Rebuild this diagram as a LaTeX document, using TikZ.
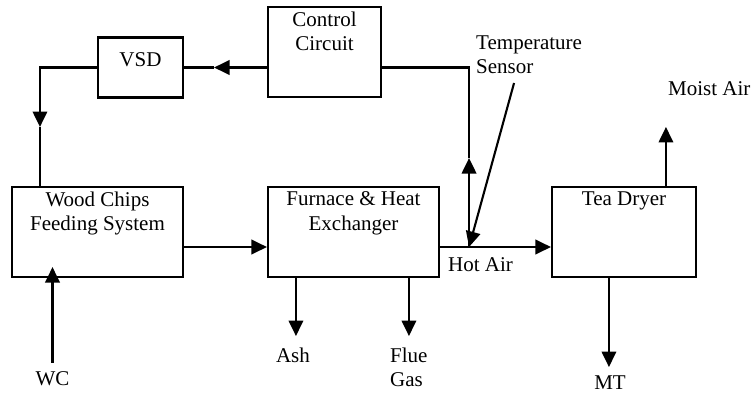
\documentclass[tikz,border=0pt]{standalone}
\usepackage{fontspec}
\setmainfont{Liberation Serif}
\usetikzlibrary{positioning}
\usetikzlibrary{calc}
\usetikzlibrary{arrows.meta}
\tikzset{
    block/.style = {rectangle,draw,line width=2.1pt,minimum width=171pt,minimum height=90pt,inner sep=0pt},
    boxtext/.style = {anchor=north,align=center,inner sep=0pt,yshift=-5.5pt},
    tag/.style = {inner sep=0pt,align=left},
    flow/.style = {line width=2.1pt,-{Triangle[length=15.5pt,width=14.5pt]}},
    wire/.style = {line width=2.1pt}}

\begin{document}
\begin{tikzpicture}[x=1pt,y=-1pt,font=\fontsize{21}{24.5}\selectfont]
    \useasboundingbox (0,0) rectangle (752,392);
    % process chain
    \path (97.5,232) node[block] (wood) {}
     ++ (256,0) node[block] (furn) {}
     ++ (270.5,0) node[block,minimum width=144pt] (dryer) {};
    % control loop
    \path (324.5,52) node[block,minimum width=113pt] (ctrl) {}
     ++ (-184,15.5) node[block,minimum width=85pt,minimum height=60pt] (vsd) {};
    \node[boxtext] (woodtxt) at (wood.north) {Wood Chips\\Feeding System};
    \node[boxtext] (furntxt) at (furn.north) {Furnace \& Heat\\Exchanger};
    \node[boxtext] (dryertxt) at (dryer.north) {Tea Dryer};
    \node[boxtext] (ctrltxt) at (ctrl.north) {Control\\Circuit};
    \node[boxtext,yshift=-10pt] (vsdtxt) at (vsd.north) {VSD};
    % free labels
    \node[tag,anchor=north] (wc) at (52.5,371.6) {WC};
    \node[tag,anchor=north] (ash) at (293,347.6) {Ash};
    \node[tag,anchor=north west] (flue) at (390,347.6) {Flue\\Gas};
    \node[tag,anchor=north] (mt) at (610,375.2) {MT};
    \node[tag,anchor=north west] (moist) at (668,81.6) {Moist Air};
    \node[tag,anchor=north west] (hot) at (448,257.6) {Hot Air};
    \node[tag,anchor=north west] (temp) at (476,35.5) {Temperature\\Sensor};
    \coordinate (c1) at ($(vsd.east)+(30,0)$);
    \coordinate (c2) at ($(wood.north west)+(29,0)$);
    \coordinate (c3) at (c2 |- vsd.west);
    \coordinate (sens) at ($(furn.east)+(29,15)$);
    \coordinate (probe) at ($(sens)+(45,-164)$);
    \coordinate (up) at ($(sens)+(0,-89)$);
    % feedback
    \draw[flow] (c1 -| ctrl.west) -- (c1);
    \draw[wire] (c1) -- (vsd.east);
    \draw[flow] (vsd.west) -- (c3) -- ($(c3)+(0,59.5)$);
    \draw[wire] ($(c3)+(0,59.5)$) -- (c2);
    \draw[flow] (sens) -- (up);
    \draw[wire] (up) -- (up |- c1) -- (c1 -| ctrl.east);
    \draw[flow] (probe) -- (sens);
    % main flow
    \draw[flow] ($(wood.east)+(0,15)$) -- ($(furn.west)+(0,15)$);
    \draw[flow] ($(furn.east)+(0,15)$) -- ($(dryer.west)+(0,15)$);
    \draw[flow] ($(wc.north)+(0,-9)$) -- ($(wc.north |- wood.south)+(0,-11)$);
    \draw[flow] ($(furn.south west)+(29,0)$) -- ($(furn.south west)+(29,58)$);
    \draw[flow] ($(furn.south west)+(142,0)$) -- ($(furn.south west)+(142,58)$);
    \draw[flow] ($(dryer.south west)+(58,0)$) -- ($(dryer.south west)+(58,89)$);
    \draw[flow] ($(dryer.north west)+(115,0)$) -- ($(dryer.north west)+(115,-59)$);
\end{tikzpicture}
\end{document}
